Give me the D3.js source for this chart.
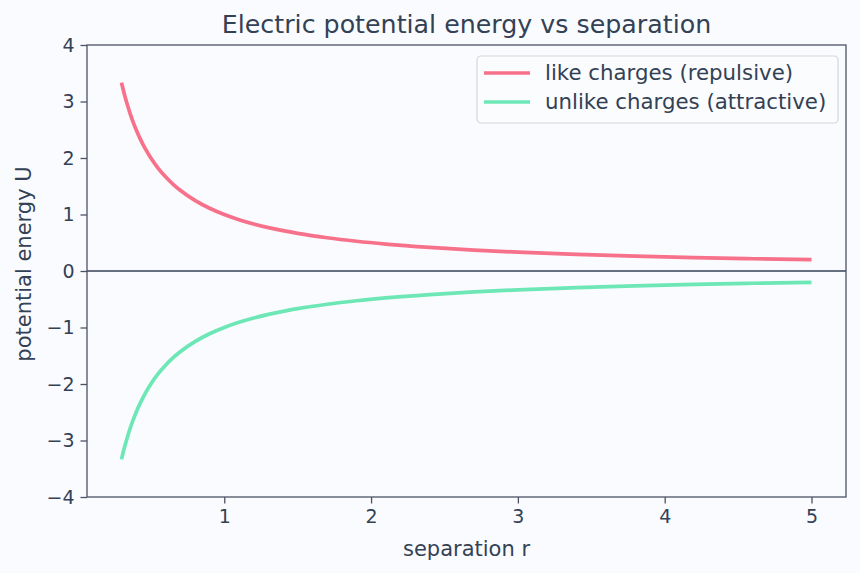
<!DOCTYPE html>
<html><head><meta charset="utf-8">
<script src="https://cdn.jsdelivr.net/npm/d3@7"></script>
<style>
body{margin:0;background:#fafbfe;}
svg{display:block;font-family:"DejaVu Sans",sans-serif;}
</style></head>
<body><svg id="c" width="860" height="573"></svg>
<script>
const separation = [0.3,0.32,0.34,0.36,0.38,0.4,0.43,0.46,0.5,0.55,0.6,0.65,0.7,0.8,0.9,1.0,1.1,1.2,1.35,1.5,1.7,1.9,2.1,2.4,2.7,3.0,3.4,3.8,4.2,4.6,5.0];
const likeU = [3.333,3.125,2.941,2.778,2.632,2.5,2.326,2.174,2.0,1.818,1.667,1.538,1.429,1.25,1.111,1.0,0.909,0.833,0.741,0.667,0.588,0.526,0.476,0.417,0.370,0.333,0.294,0.263,0.238,0.217,0.2];
const unlikeU = [-3.333,-3.125,-2.941,-2.778,-2.632,-2.5,-2.326,-2.174,-2.0,-1.818,-1.667,-1.538,-1.429,-1.25,-1.111,-1.0,-0.909,-0.833,-0.741,-0.667,-0.588,-0.526,-0.476,-0.417,-0.370,-0.333,-0.294,-0.263,-0.238,-0.217,-0.2];
const xTicks = [1,2,3,4,5];
const yTicks = [-4,-3,-2,-1,0,1,2,3,4];
const seriesNames = ["like charges (repulsive)","unlike charges (attractive)"];
const seriesColors = ["#f7718a","#6ee7b7"];

const svg = d3.select("#c");
const L=87,R=846,T=45,B=497;
const txt="#334155", spine="#4b5263";
const x = d3.scaleLinear().domain([0.065,5.235]).range([L,R]);
const y = d3.scaleLinear().domain([-4,4]).range([B,T]);

svg.append("rect").attr("width",860).attr("height",573).attr("fill","#fafbfe");

// zero line
svg.append("line").attr("x1",L).attr("x2",R).attr("y1",y(0)).attr("y2",y(0))
  .attr("stroke",txt).attr("stroke-width",1.4);

const line = d3.line().x(d=>x(d[0])).y(d=>y(d[1])).curve(d3.curveMonotoneX);
[likeU,unlikeU].forEach((vals,i)=>{
  svg.append("path").datum(separation.map((r,j)=>[r,vals[j]]))
    .attr("d",line).attr("fill","none").attr("stroke",seriesColors[i])
    .attr("stroke-width",3.7).attr("stroke-linecap","butt");
});

// axes
const gx = svg.append("g").attr("transform",`translate(0,${B})`)
  .call(d3.axisBottom(x).tickValues(xTicks).tickFormat(d3.format("d")).tickSize(6.5).tickPadding(6));
const gy = svg.append("g").attr("transform",`translate(${L},0)`)
  .call(d3.axisLeft(y).tickValues(yTicks).tickFormat(d=>d<0?"\u2212"+Math.abs(d):d).tickSize(6.5).tickPadding(6));
[gx,gy].forEach(g=>{
  g.select(".domain").remove();
  g.selectAll(".tick line").attr("stroke",spine).attr("stroke-width",1.3);
  g.selectAll(".tick text").attr("fill",txt).style("font-size","19px").style("font-family","DejaVu Sans");
});
// frame
svg.append("rect").attr("x",L).attr("y",T).attr("width",R-L).attr("height",B-T)
  .attr("fill","none").attr("stroke",spine).attr("stroke-width",1.3);

// labels
svg.append("text").attr("x",(L+R)/2).attr("y",33).attr("text-anchor","middle")
  .attr("fill",txt).style("font-size","25.3px").text("Electric potential energy vs separation");
svg.append("text").attr("x",(L+R)/2).attr("y",556).attr("text-anchor","middle")
  .attr("fill",txt).style("font-size","21px").text("separation r");
svg.append("text").attr("transform",`translate(31,264) rotate(-90)`).attr("text-anchor","middle")
  .attr("fill",txt).style("font-size","21px").text("potential energy U");

// legend
const lg = svg.append("g");
lg.append("rect").attr("x",477).attr("y",56).attr("width",361).attr("height",67).attr("rx",4)
  .attr("fill","#fafbfe").attr("fill-opacity",0.85).attr("stroke","#d4d6da").attr("stroke-width",1.2);
seriesNames.forEach((n,i)=>{
  const yy = 73+i*29;
  lg.append("line").attr("x1",484).attr("x2",530).attr("y1",yy).attr("y2",yy)
    .attr("stroke",seriesColors[i]).attr("stroke-width",3.7);
  lg.append("text").attr("x",545).attr("y",yy+7).attr("fill",txt)
    .style("font-size","21.3px").text(n);
});
</script></body></html>
